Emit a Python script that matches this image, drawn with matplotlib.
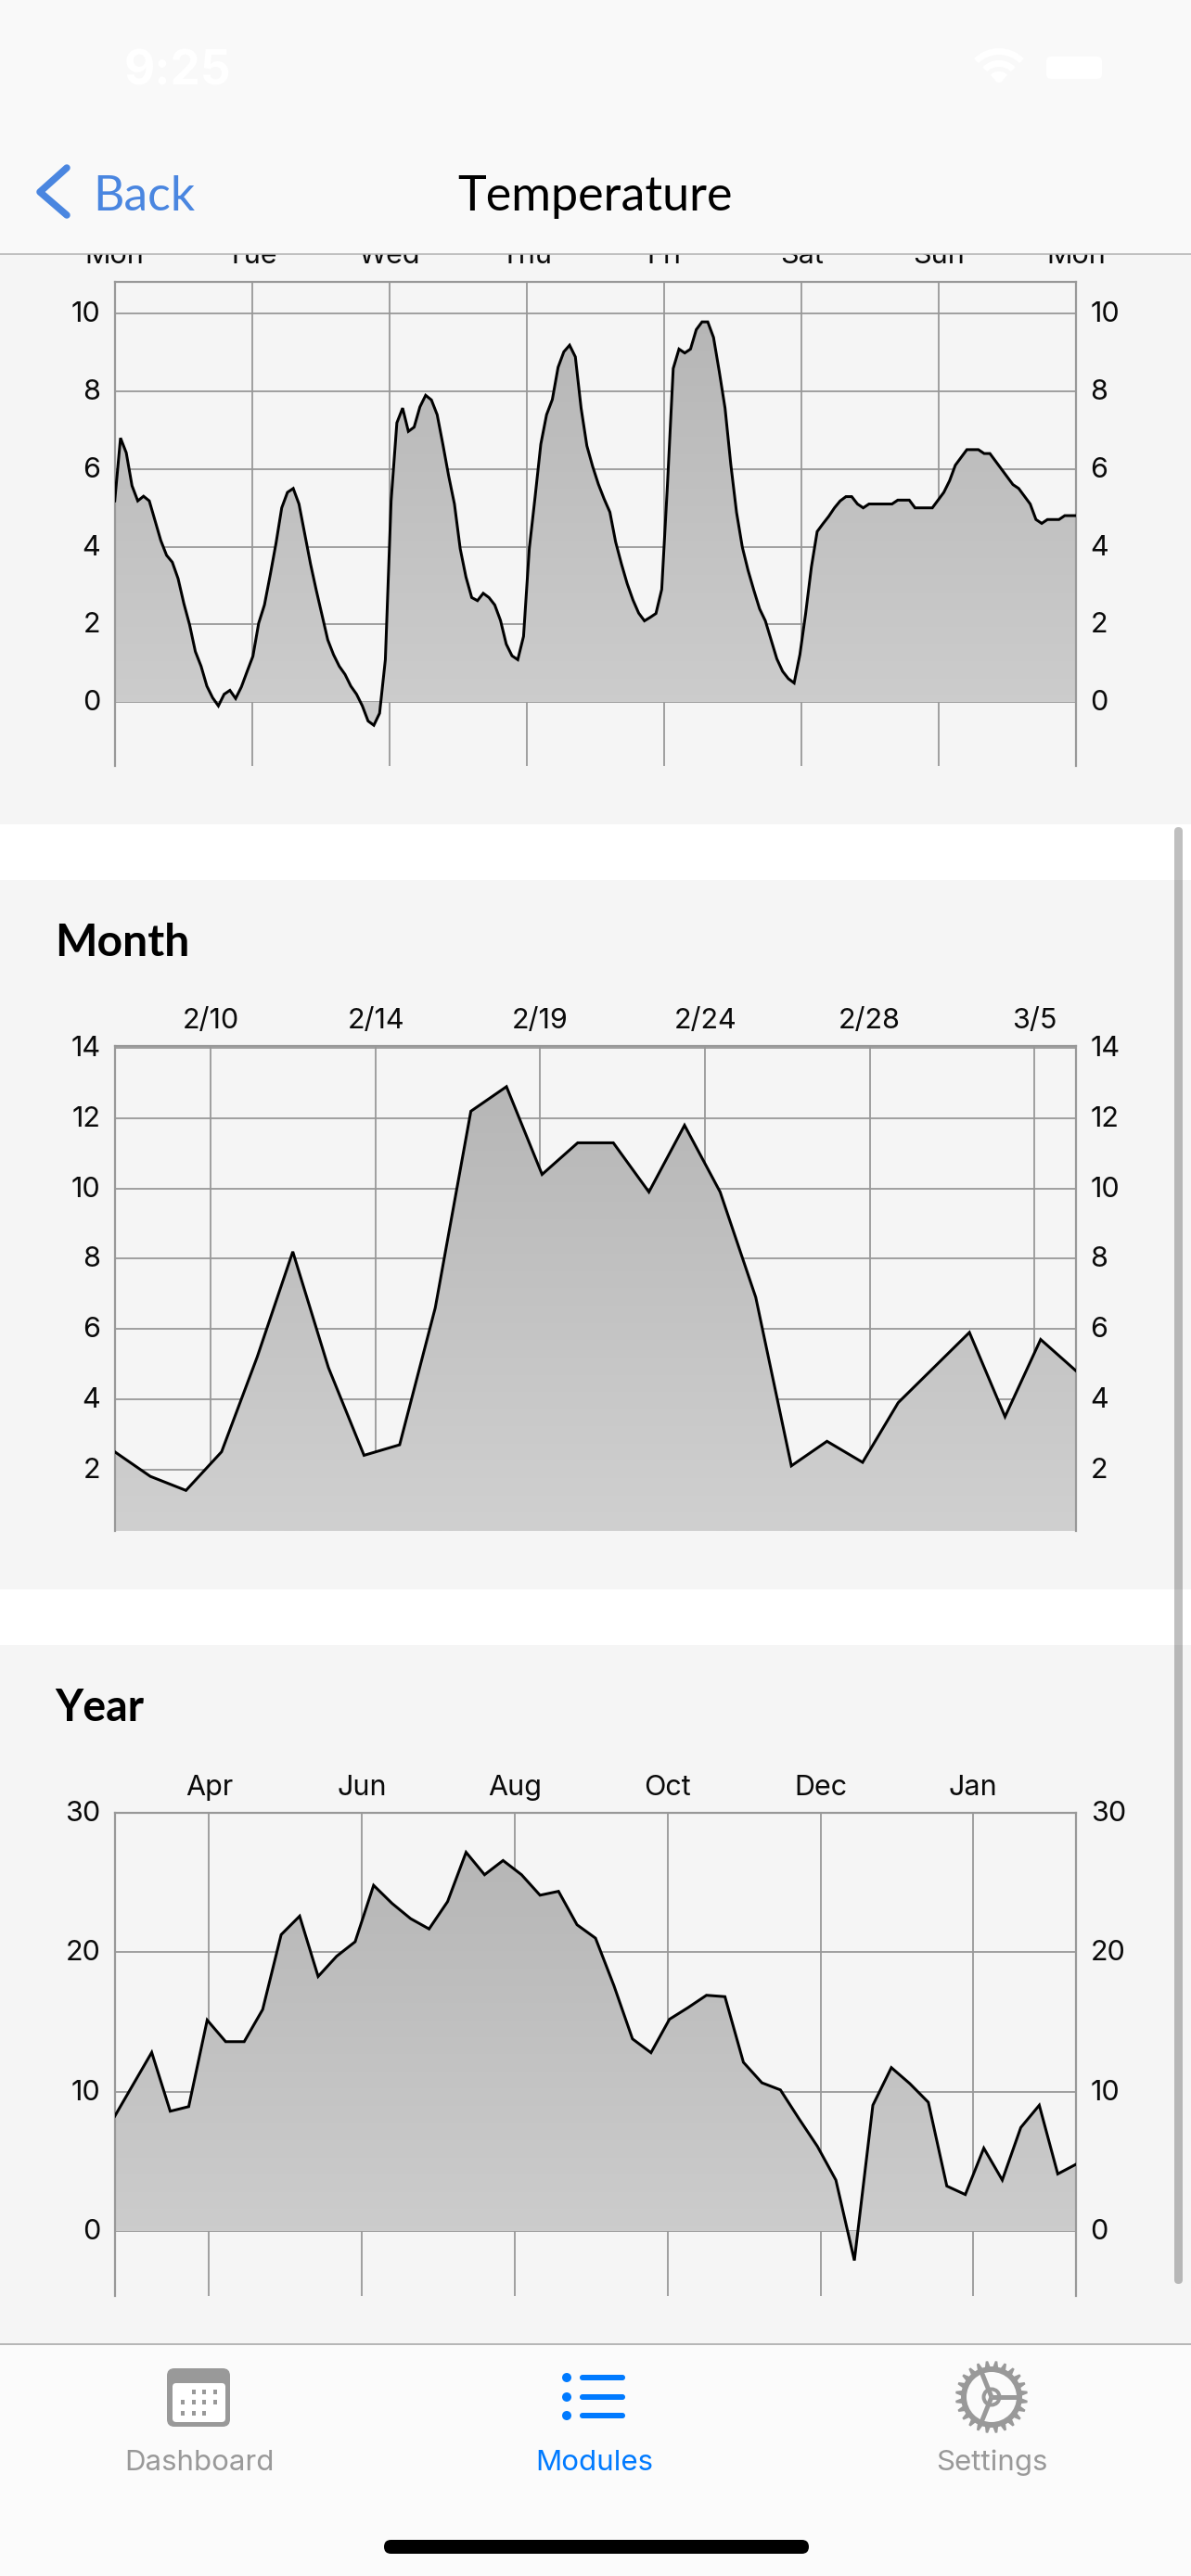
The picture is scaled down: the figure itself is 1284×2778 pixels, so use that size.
import numpy as np
import matplotlib
matplotlib.use("Agg")
import matplotlib.pyplot as plt
from matplotlib.patches import Rectangle, FancyBboxPatch, Polygon, Circle, Wedge
from matplotlib.colors import LinearSegmentedColormap
from matplotlib.transforms import ScaledTranslation

# ---------- data ----------
week_values = [5.18, 6.8, 6.42, 5.57, 5.18, 5.3, 5.18, 4.67, 4.16, 3.78, 3.6, 3.18, 2.54, 1.99, 1.3, 0.92, 0.41, 0.11, -0.1, 0.2,
               0.3, 0.09, 0.39, 0.79, 1.18, 2.03, 2.5, 3.27, 4.08, 5.0, 5.4, 5.5, 5.1, 4.33, 3.56, 2.88, 2.24, 1.6, 1.22, 0.92,
               0.71, 0.41, 0.2, -0.1, -0.49, -0.6, -0.29, 1.09, 5.18, 7.19, 7.57, 6.97, 7.08, 7.6, 7.9, 7.78, 7.4, 6.63, 5.82, 5.1,
               3.95, 3.22, 2.69, 2.61, 2.8, 2.69, 2.5, 2.1, 1.49, 1.19, 1.09, 1.69, 3.95, 5.27, 6.64, 7.4, 7.79, 8.62, 9.02, 9.19,
               8.89, 7.57, 6.6, 6.07, 5.61, 5.23, 4.89, 4.12, 3.56, 3.05, 2.63, 2.29, 2.09, 2.18, 2.28, 2.9, 5.6, 8.59, 9.09, 8.99,
               9.09, 9.59, 9.79, 9.79, 9.39, 8.51, 7.57, 6.12, 4.88, 3.99, 3.39, 2.88, 2.4, 2.09, 1.6, 1.11, 0.79, 0.6, 0.49, 1.22,
               2.28, 3.48, 4.39, 4.59, 4.78, 5.0, 5.18, 5.29, 5.29, 5.1, 5.0, 5.1, 5.1, 5.1, 5.1, 5.1, 5.2, 5.2, 5.2, 5.0,
               5.0, 5.0, 5.0, 5.2, 5.4, 5.7, 6.1, 6.3, 6.5, 6.5, 6.5, 6.4, 6.4, 6.2, 6.0, 5.8, 5.6, 5.5, 5.3, 5.1,
               4.7, 4.6, 4.7, 4.7, 4.7, 4.8, 4.8, 4.8]
week_labels = ["Mon", "Tue", "Wed", "Thu", "Fri", "Sat", "Sun", "Mon"]
week_ticks = [0, 1, 2, 3, 4, 5, 6, 7]
week_yticks = [0, 2, 4, 6, 8, 10]

month_values = [2.5, 1.8, 1.4, 2.5, 5.2, 8.2, 4.9, 2.4, 2.7, 6.6, 12.2, 12.9, 10.4, 11.3,
                11.3, 9.9, 11.8, 9.9, 6.9, 2.1, 2.8, 2.2, 3.9, 4.9, 5.9, 3.5, 5.7, 4.8]
month_labels = ["2/10", "2/14", "2/19", "2/24", "2/28", "3/5"]
month_ticks = [2.69, 7.33, 11.95, 16.58, 21.2, 25.83]
month_yticks = [2, 4, 6, 8, 10, 12, 14]

year_values = [8.24, 10.53, 12.82, 8.6, 8.93, 15.14, 13.59, 13.59, 15.9, 21.27, 22.6, 18.27, 19.72, 20.76, 24.81, 23.51, 22.42, 21.68,
               23.64, 27.18, 25.57, 26.59, 25.57, 24.1, 24.38, 21.98, 21.02, 17.6, 13.79, 12.8, 15.2, 16.03, 16.92, 16.82, 12.11, 10.64,
               10.13, 8.07, 6.08, 3.66, -2.11, 9.03, 11.73, 10.58, 9.24, 3.23, 2.62, 5.95, 3.66, 7.43, 9.03, 4.1, 4.8]
year_labels = ["Apr", "Jun", "Aug", "Oct", "Dec", "Jan"]
year_ticks = [5.1, 13.36, 21.63, 29.89, 38.17, 46.43]
year_yticks = [0, 10, 20, 30]

# ---------- figure ----------
W, H = 1284, 2778
PX = 72 / 100  # points per pixel
fig = plt.figure(figsize=(W / 100, H / 100), dpi=100, facecolor="white")
UI = "Lato"
NUM = "Inter"
GRID = "#989898"
grad_cmap = LinearSegmentedColormap.from_list("g", ["#d0d0d0", "#b4b4b4"])


def px_axes(z):
    a = fig.add_axes([0, 0, 1, 1], zorder=z)
    a.set_xlim(0, W)
    a.set_ylim(H, 0)
    a.axis("off")
    a.patch.set_alpha(0)
    return a


bg = px_axes(0)
for top, bottom in [(0, 889), (949, 1714), (1774, 2528)]:
    bg.add_patch(Rectangle((0, top), W, bottom - top, fc="#f5f5f5", ec="none"))
bg.text(59, 1031, "Month", family=UI, weight="bold", fontsize=34.7, color="black", va="baseline")
bg.text(59, 1856, "Year", family=UI, weight="bold", fontsize=33.5, color="black", va="baseline")


def chart(top, bottom, x, y, ticks, labels, yticks, ylim, xlim):
    ax = fig.add_axes([123.7 / W, 1 - bottom / H, (1160.3 - 123.7) / W, (bottom - top) / H], zorder=1)
    ax.set_facecolor("none")
    ax.set_xlim(*xlim)
    ax.set_ylim(*ylim)
    ax.set_xticks(ticks, labels)
    ax.set_yticks(yticks, [str(v) for v in yticks])
    ax.grid(True, color=GRID, lw=1.8 * PX, zorder=1)
    ax.set_axisbelow(True)
    ax.tick_params(axis="x", length=0, pad=9.5, top=False, bottom=False, labeltop=True, labelbottom=False, labelsize=22)
    ax.tick_params(axis="y", length=0, pad=11, left=False, right=False, labelleft=True, labelright=True, labelsize=22)
    for lab in ax.get_xticklabels() + ax.get_yticklabels():
        lab.set_family(NUM)
        lab.set_color("#0a0a0a")
    shift = ScaledTranslation(0, 2 / 100, fig.dpi_scale_trans)
    for tick in ax.yaxis.get_major_ticks():
        tick.label1.set_transform(tick.label1.get_transform() + shift)
        tick.label2.set_transform(tick.label2.get_transform() + shift)
    for s, sp in ax.spines.items():
        sp.set_color(GRID)
        sp.set_linewidth(2.2 * PX)
    ax.spines["bottom"].set_visible(False)
    poly = ax.fill_between(x, y, 0, color="none", lw=0, zorder=2)
    im = ax.imshow(np.linspace(1, 0, 256)[:, None], extent=[xlim[0], xlim[1], ylim[0], ylim[1]], aspect="auto",
                   cmap=grad_cmap, vmin=0, vmax=1, zorder=2)
    path = poly.get_paths()[0]
    im.set_clip_path(path, transform=ax.transData)
    ax.plot(x, y, color="black", lw=3 * PX, zorder=3, solid_joinstyle="miter", clip_on=True)
    return ax


chart(303.6, 825.7, np.linspace(0, 7, len(week_values)), week_values, week_ticks, week_labels, week_yticks,
      (-1.64, 10.83), (0, 7))
chart(1128.3, 1650.7, np.arange(len(month_values)), month_values, month_ticks, month_labels, month_yticks,
      (0.254, 14.05), (0, len(month_values) - 1))
chart(1954.7, 2475.6, np.arange(len(year_values)), year_values, year_ticks, year_labels, year_yticks,
      (-4.63, 30.03), (0, len(year_values) - 1))

# ---------- overlay: bars ----------
ov = px_axes(5)
ov.add_patch(Rectangle((0, 0), W, 274, fc="#f9f9f9", ec="none"))
ov.plot([0, W], [274, 274], color="#b4b4b4", lw=1.6 * PX)
ov.add_patch(Rectangle((0, 2528), W, H - 2528, fc="#fbfbfb", ec="none"))
ov.plot([0, W], [2528, 2528], color="#b0b0b0", lw=1.8 * PX)

# status bar
ov.text(134, 92, "9:25", family=NUM, weight="bold", fontsize=37, color="white", va="baseline", ha="left")
for r in (38, 25, 13):
    ov.add_patch(Wedge((1077, 90), r, 225, 315, width=7, fc="white", ec="none"))
ov.add_patch(Circle((1077, 84), 5, fc="white", ec="none"))
ov.add_patch(FancyBboxPatch((1128, 61), 60, 24, boxstyle="round,pad=0,rounding_size=5", fc="white", ec="none"))

# navigation
ov.plot([72, 43, 72], [181, 207, 232], color="#4a86e0", lw=7.5 * PX, solid_capstyle="round", solid_joinstyle="round")
ov.text(100, 227, "Back", family=UI, fontsize=37.3, color="#4a86e0", va="baseline", ha="left")
ov.text(642, 227, "Temperature", family=UI, fontsize=37.5, color="black", va="baseline", ha="center")

# scrollbar
ov.add_patch(FancyBboxPatch((1266, 892), 9, 2463 - 892, boxstyle="round,pad=0,rounding_size=4.5",
                            fc="black", alpha=0.25, ec="none"))

# tab labels
ov.text(214.6, 2664, "Dashboard", family=NUM, fontsize=22.5, color="#999999", ha="center", va="baseline")
ov.text(641, 2664, "Modules", family=NUM, fontsize=22.5, color="#007aff", ha="center", va="baseline")
ov.text(1069, 2664, "Settings", family=NUM, fontsize=22.5, color="#999999", ha="center", va="baseline")

# dashboard icon
ov.add_patch(FancyBboxPatch((180, 2554), 68, 63, boxstyle="round,pad=0,rounding_size=8", fc="#999999", ec="none"))
ov.add_patch(FancyBboxPatch((186, 2570), 57, 42, boxstyle="round,pad=0,rounding_size=4", fc="white", ec="none"))
for dy, xs in [(2579, (209, 220, 232)), (2590, (197, 209, 220, 232)), (2602, (197, 209, 220))]:
    for dx in xs:
        ov.add_patch(Rectangle((dx - 2, dy - 2.5), 4, 5, fc="#999999", ec="none"))

# modules icon
for yy in (2564, 2585, 2605):
    ov.add_patch(Circle((611, yy), 5, fc="#007aff", ec="none"))
    ov.add_patch(FancyBboxPatch((625, yy - 3), 49, 6, boxstyle="round,pad=0,rounding_size=3", fc="#007aff", ec="none"))

# settings icon
cx, cy = 1069, 2585
n = 24
pts = []
for k in range(n):
    for da, rr in [(-0.32, 33), (-0.12, 39), (0.12, 39), (0.32, 33)]:
        a = 2 * np.pi * (k + 0.5 + da) / n
        pts.append((cx + rr * np.cos(a), cy + rr * np.sin(a)))
ov.add_patch(Polygon(pts, closed=True, fc="#999999", ec="none"))
ov.add_patch(Circle((cx, cy), 27, fc="#fbfbfb", ec="none"))
for ang in (0, 112, 248):
    a = np.deg2rad(ang)
    ov.plot([cx, cx + 29 * np.cos(a)], [cy, cy - 29 * np.sin(a)], color="#999999", lw=5 * PX, solid_capstyle="butt")
ov.add_patch(Circle((cx, cy), 8.5, fc="#fbfbfb", ec="#999999", lw=4 * PX))

# home indicator
ov.add_patch(FancyBboxPatch((414, 2739), 458, 15, boxstyle="round,pad=0,rounding_size=7.5", fc="black", ec="none"))

fig.savefig("out.png", dpi=100)
